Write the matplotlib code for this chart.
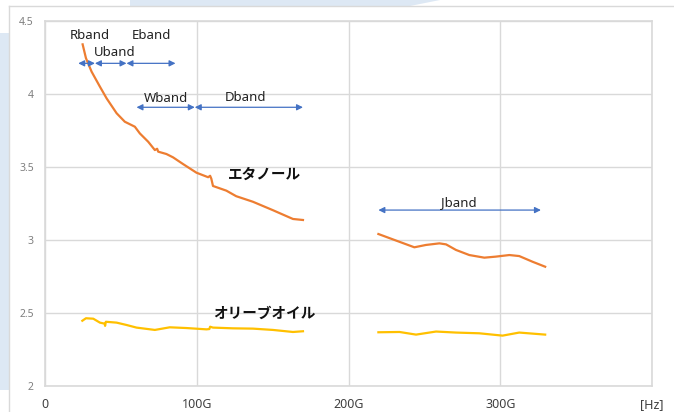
import matplotlib
matplotlib.use("Agg")
import matplotlib.pyplot as plt
from matplotlib.patches import Polygon, Rectangle

plt.rcParams['font.family'] = ['Noto Sans', 'Noto Sans CJK JP', 'DejaVu Sans']

# Ethanol (GHz, permittivity)
eth1_x = [24.8, 27.0, 30.7, 36.2, 40.6, 47.2, 52.6, 59.2, 62.5, 68.0, 72.4, 73.9, 74.6,
          80.0, 84.4, 91.0, 99.8, 107.5, 108.8, 109.6, 110.7, 119.5, 126.0, 137.0, 150.0,
          159.0, 163.4, 170.0]
eth1_y = [4.34, 4.245, 4.153, 4.05, 3.97, 3.868, 3.81, 3.776, 3.73, 3.673, 3.616, 3.625, 3.605,
          3.589, 3.566, 3.52, 3.461, 3.43, 3.44, 3.42, 3.37, 3.338, 3.30, 3.262, 3.205,
          3.164, 3.144, 3.137]
eth2_x = [219.7, 231.4, 243.4, 251.0, 259.9, 264.3, 270.8, 279.6, 289.5, 297.0, 306.0,
          312.5, 321.3, 329.6]
eth2_y = [3.041, 2.996, 2.95, 2.966, 2.977, 2.97, 2.932, 2.897, 2.879, 2.886, 2.897,
          2.89, 2.851, 2.817]

# Olive oil
oil1_x = [24.6, 27.0, 31.8, 36.2, 39.3, 39.6, 40.1, 47.2, 53.7, 60.3, 72.4, 82.2, 93.2,
          106.4, 108.3, 108.8, 110.7, 123.9, 137.0, 150.2, 163.4, 170.0]
oil1_y = [2.447, 2.464, 2.461, 2.434, 2.427, 2.412, 2.44, 2.434, 2.418, 2.40, 2.384, 2.402, 2.397,
          2.388, 2.39, 2.406, 2.40, 2.395, 2.393, 2.384, 2.37, 2.375]
oil2_x = [219.7, 233.6, 244.5, 257.7, 270.8, 286.2, 301.5, 312.5, 329.6]
oil2_y = [2.368, 2.37, 2.352, 2.373, 2.366, 2.361, 2.345, 2.366, 2.352]

# Frequency bands: name, start, end, arrow level, label x, label y
band_names = ["Rband", "Uband", "Eband", "Wband", "Dband", "Jband"]
band_start = [21.9, 32.9, 53.7, 60.3, 98.7, 219.7]
band_end = [32.9, 53.7, 86.0, 98.7, 170.0, 326.8]
band_level = [4.21, 4.21, 4.21, 3.909, 3.909, 3.205]
label_x = [29.6, 45.6, 70.2, 80.0, 132.2, 272.6]
label_y = [4.404, 4.286, 4.404, 3.966, 3.975, 3.26]

x_ticks = [0, 100, 200, 300, 400]
x_ticklabels = ["0", "100G", "200G", "300G", "[Hz]"]
y_ticks = [2, 2.5, 3, 3.5, 4, 4.5]
y_ticklabels = ["2", "2.5", "3", "3.5", "4", "4.5"]

W, H = 674, 412
fig = plt.figure(figsize=(W / 100, H / 100), dpi=100)
fig.patch.set_facecolor('white')

# slide decoration
blue = '#dde8f4'
fig.patches.append(Polygon([(130 / W, 1), (440 / W, 1), (410 / W, 1 - 6 / H), (130 / W, 1 - 6 / H)],
                           closed=True, transform=fig.transFigure, facecolor=blue, edgecolor='none', zorder=0))
fig.patches.append(Rectangle((0, 1 - 390 / H), 9 / W, (390 - 33) / H,
                             transform=fig.transFigure, facecolor=blue, edgecolor='none', zorder=0))
# chart area border
fig.add_artist(plt.Line2D([9 / W, 1], [1 - 6 / H, 1 - 6 / H], transform=fig.transFigure, color='#d9d9d9', lw=1))
fig.add_artist(plt.Line2D([9 / W, 9 / W], [0, 1 - 6 / H], transform=fig.transFigure, color='#d9d9d9', lw=1))

ax = fig.add_axes([45 / W, (H - 386) / H, (652 - 45) / W, (386 - 21) / H])
ax.set_xlim(0, 400)
ax.set_ylim(2, 4.5)
ax.set_xticks(x_ticks)
ax.set_xticklabels(x_ticklabels, fontsize=9, color='#404040')
ax.set_yticks(y_ticks)
ax.set_yticklabels(y_ticklabels, fontsize=7.5, color='#7f7f7f')
ax.tick_params(axis='both', length=0)
ax.tick_params(axis='x', pad=9)
ax.tick_params(axis='y', pad=8)
ax.grid(True, color='#d9d9d9', lw=1)
ax.set_axisbelow(True)
for s in ax.spines.values():
    s.set_color('#d9d9d9')
    s.set_linewidth(1.2)

orange = '#ED7D31'
yellow = '#FFC000'
ax.plot(eth1_x, eth1_y, color=orange, lw=1.6, zorder=3)
ax.plot(eth2_x, eth2_y, color=orange, lw=1.6, zorder=3)
ax.plot(oil1_x, oil1_y, color=yellow, lw=1.6, zorder=3)
ax.plot(oil2_x, oil2_y, color=yellow, lw=1.6, zorder=3)

arrow_color = '#4472C4'
for name, s, e, lv, lx, ly in zip(band_names, band_start, band_end, band_level, label_x, label_y):
    ax.annotate('', xy=(e, lv), xytext=(s, lv),
                arrowprops=dict(arrowstyle='<|-|>', color=arrow_color, lw=0.9,
                                mutation_scale=9, shrinkA=0, shrinkB=0), zorder=4)
    ax.text(lx, ly, name, ha='center', va='center', fontsize=9.5, color='#222222', zorder=5)

ax.text(144.7, 3.452, "エタノール", ha='center', va='center', fontsize=10.5,
        fontweight='bold', family=['Noto Sans CJK JP'], color='#111111')
ax.text(144.7, 2.502, "オリーブオイル", ha='center', va='center', fontsize=10.5,
        fontweight='bold', family=['Noto Sans CJK JP'], color='#111111')

fig.savefig('out.png', dpi=100)
